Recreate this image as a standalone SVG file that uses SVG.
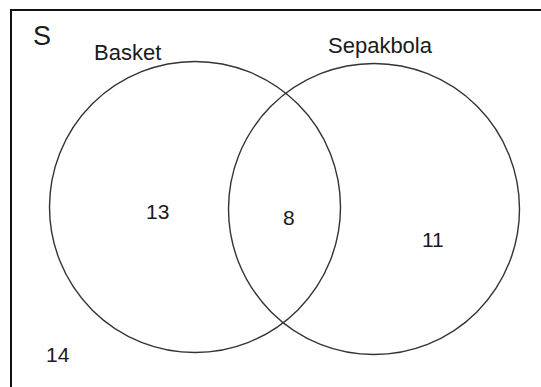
<svg xmlns="http://www.w3.org/2000/svg" width="541" height="387" viewBox="0 0 541 387">
<style>
.frame{fill:none;stroke:#111;stroke-width:2}
.set{fill:none;stroke:#333;stroke-width:1.4}
.t{font-family:"Liberation Sans",Arial,sans-serif;fill:#1a1a1a}
</style>
<rect x="0" y="0" width="541" height="387" fill="#fff"/>
<path class="frame" d="M11,387 V10 H541"/>
<text class="t" x="33" y="45" font-size="27">S</text>
<g id="basket">
<circle class="set" cx="195" cy="207" r="145.5"/>
<text class="t" x="94" y="60" font-size="22">Basket</text>
</g>
<g id="sepakbola">
<circle class="set" cx="374" cy="209" r="145.5"/>
<text class="t" x="328" y="53" font-size="22">Sepakbola</text>
</g>
<g id="labels">
<text class="t" x="146" y="219" font-size="21">13</text>
<text class="t" x="283" y="225" font-size="21">8</text>
<text class="t" x="422" y="247" font-size="21">11</text>
<text class="t" x="46" y="362" font-size="21">14</text>
</g>
</svg>
